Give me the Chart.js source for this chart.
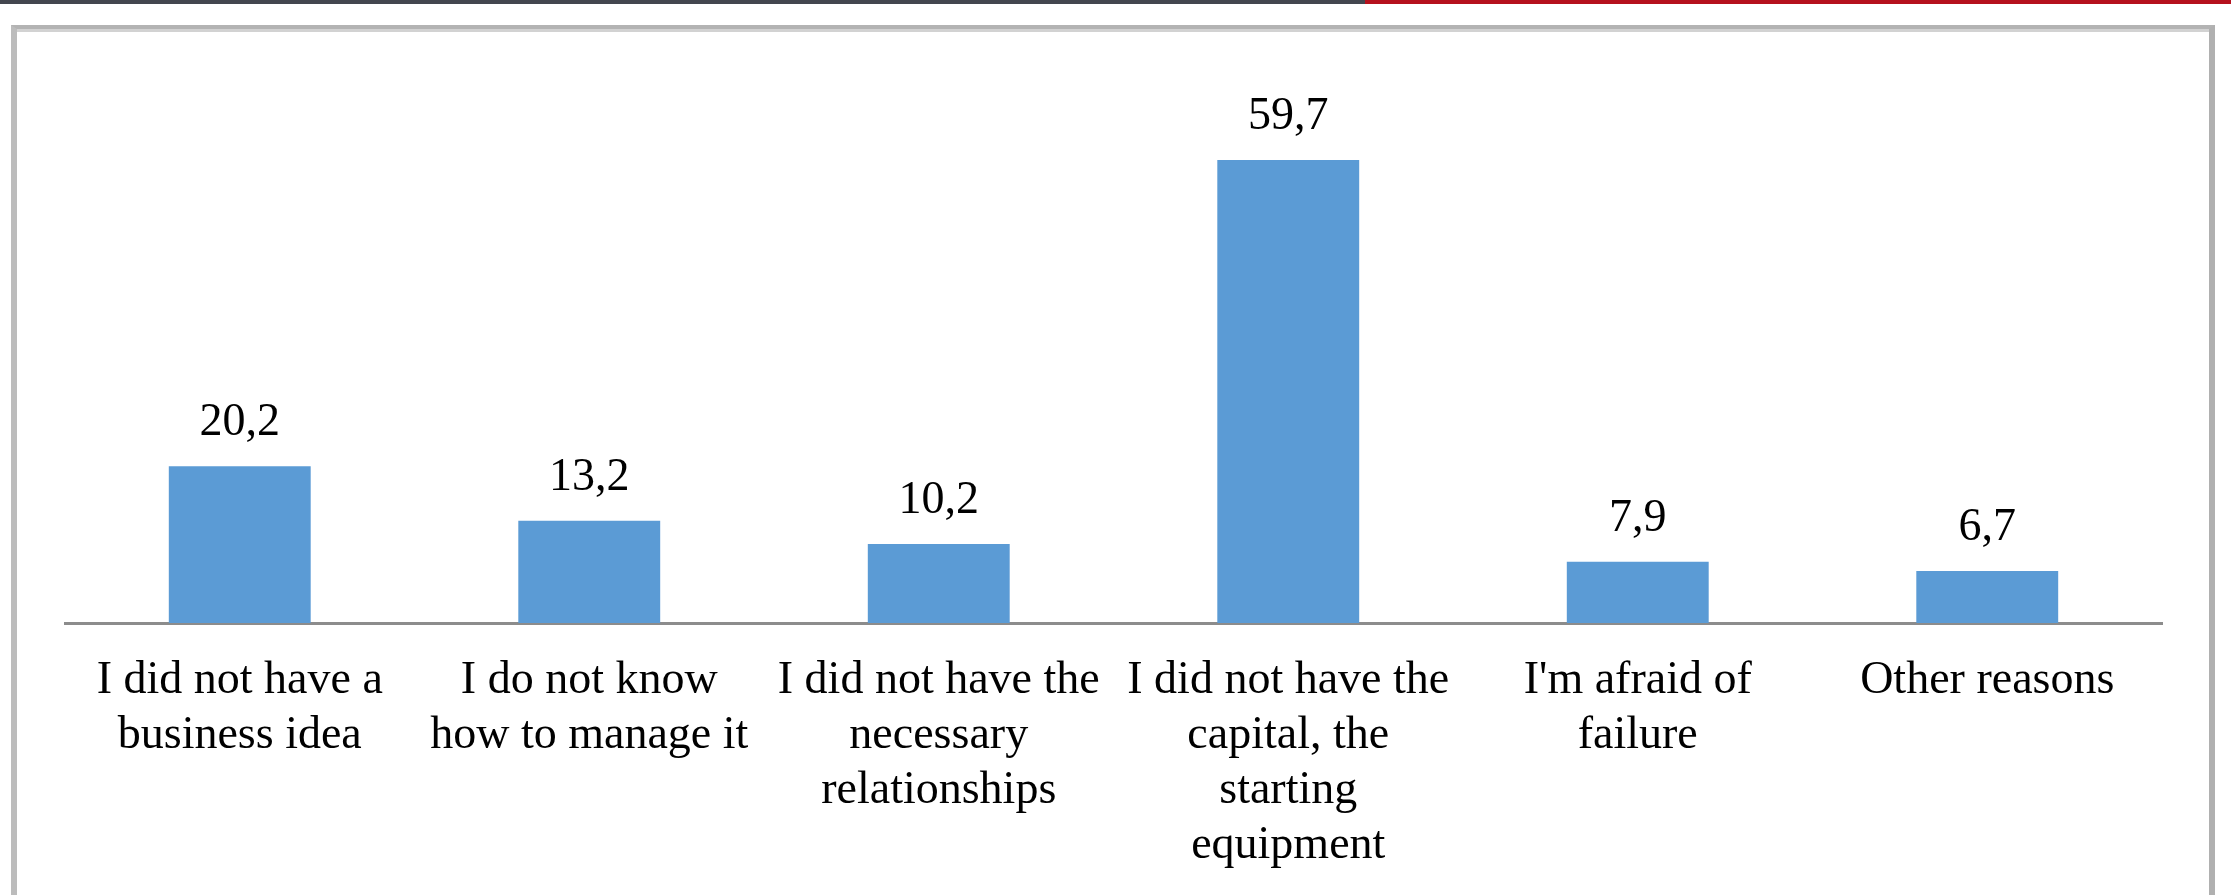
<!DOCTYPE html>
<html>
<head>
<meta charset="utf-8">
<script src="https://cdn.jsdelivr.net/npm/chart.js@4.4.1/dist/chart.umd.min.js"></script>
<style>
    html, body { margin: 0; padding: 0; background: #fff; overflow: hidden; }
    body { width: 2231px; height: 895px; position: relative; }
    .strip-dark { position: absolute; left: 0; top: 0; width: 1365px; height: 4px; background: #43464f; }
    .strip-red { position: absolute; left: 1365px; top: 0; width: 866px; height: 4px; background: #b5111d; }
    .frame {
        position: absolute; left: 11px; top: 25px; width: 2192px; height: 900px;
        border-left: 6px solid #bcbcbc; border-right: 6px solid #b0b0b0; border-top: 4px solid #b3b3b3;
    }
    .frame-inner { position: absolute; left: 0; right: 0; top: 0; height: 3px; background: #d2d2d2; }
    #chart { position: absolute; left: 0; top: 0; }
</style>
</head>
<body>
<div class="strip-dark"></div>
<div class="strip-red"></div>
<div class="frame"><div class="frame-inner"></div></div>
<canvas id="chart" width="2231" height="930"></canvas>
<script>
const categories = [
    ['I did not have a', 'business idea'],
    ['I do not know', 'how to manage it'],
    ['I did not have the', 'necessary', 'relationships'],
    ['I did not have the', 'capital, the', 'starting', 'equipment'],
    ["I'm afraid of", 'failure'],
    ['Other reasons']
];
const values = [20.2, 13.2, 10.2, 59.7, 7.9, 6.7];
const yMax = 70;

const textFont = "'Liberation Serif', 'Times New Roman', serif";

// draws the numbers above each bar, with a decimal comma
const valueLabels = {
    id: 'valueLabels',
    afterDatasetsDraw(chart) {
        const ctx = chart.ctx;
        const meta = chart.getDatasetMeta(0);
        ctx.save();
        ctx.font = `46px ${textFont}`;
        ctx.fillStyle = '#000';
        ctx.textAlign = 'center';
        ctx.textBaseline = 'alphabetic';
        meta.data.forEach((bar, i) => {
            const txt = values[i].toFixed(1).replace('.', ',');
            ctx.fillText(txt, bar.x, bar.y - 31);
        });
        ctx.restore();
    }
};

const ctx = document.getElementById('chart').getContext('2d');
new Chart(ctx, {
    type: 'bar',
    data: {
        labels: categories,
        datasets: [{
            data: values,
            backgroundColor: '#5b9bd5',
            borderWidth: 0,
            barPercentage: 0.406,
            categoryPercentage: 1
        }]
    },
    options: {
        responsive: false,
        animation: false,
        layout: {
            padding: { left: 65, right: 69, top: 80, bottom: 26 }
        },
        plugins: {
            legend: { display: false },
            title: { display: false },
            tooltip: { enabled: false }
        },
        scales: {
            x: {
                grid: { display: false, drawTicks: false },
                border: { display: true, color: '#8c8c8c', width: 3 },
                ticks: {
                    color: '#000',
                    padding: 31,
                    maxRotation: 0,
                    autoSkip: false,
                    font: { family: textFont, size: 46, lineHeight: 1.19 }
                }
            },
            y: {
                display: false,
                min: 0,
                max: yMax
            }
        }
    },
    plugins: [valueLabels]
});
</script>
</body>
</html>
